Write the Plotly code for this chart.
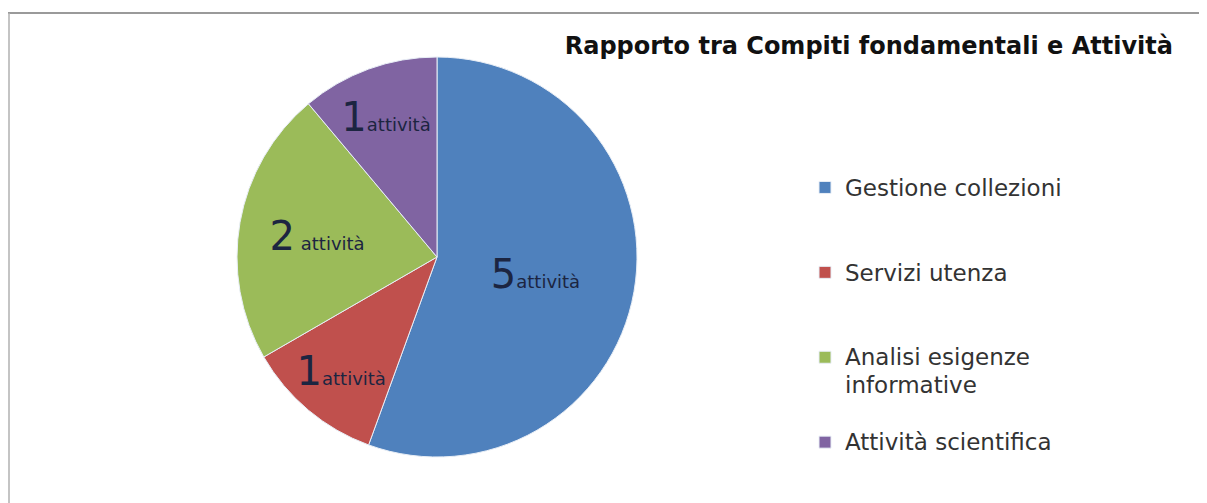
import plotly.graph_objects as go

# data
categories = ["Gestione collezioni", "Servizi utenza", "Analisi esigenze", "Attività scientifica"]
category_extra_line = ["", "", "informative", ""]
values = [5, 1, 2, 1]
slice_suffix = ["attività", "attività", " attività", "attività"]
colors = ["#4F81BD", "#C0504D", "#9BBB59", "#8064A2"]

# the page body adds an 8px margin, so the figure is shrunk to fit the window
W, H = 1199, 495
FONT = "DejaVu Sans"
NAVY = "#1C2541"

# legend labels: a blank line above, the name, then a blank or second line below,
# so every entry takes three rows and the marker sits next to the name
pad = "\u00a0"
legend_labels = []
for name, extra in zip(categories, category_extra_line):
    below = extra if extra else pad
    legend_labels.append(
        f"<span style='font-size:23px'>{pad}<br>{name}<br>{below}</span>"
    )

fig = go.Figure(
    go.Pie(
        labels=legend_labels,
        values=values,
        text=slice_suffix,
        sort=False,
        direction="clockwise",
        rotation=0,
        marker=dict(colors=colors, line=dict(color="#e8eef6", width=1)),
        texttemplate="<span style='font-size:40px'>%{value}</span>%{text}",
        textposition="inside",
        insidetextorientation="horizontal",
        textfont=dict(family=FONT, size=18, color=NAVY),
        hoverinfo="value+percent",
        domain=dict(x=[229 / W, 629 / W], y=[1 - 449 / H, 1 - 49 / H]),
    )
)

fig.update_layout(
    width=W,
    height=H,
    margin=dict(l=0, r=0, t=0, b=0),
    paper_bgcolor="white",
    plot_bgcolor="white",
    font=dict(family=FONT, color=NAVY),
    uniformtext=dict(minsize=18, mode="show"),
    title=dict(
        text="<b>Rapporto tra Compiti fondamentali e Attività</b>",
        x=1165 / W,
        xanchor="right",
        y=1 - 38 / H,
        yanchor="middle",
        font=dict(family=FONT, size=24, color="#111111"),
    ),
    legend=dict(
        x=797 / W,
        xanchor="left",
        y=1 - 132 / H,
        yanchor="top",
        font=dict(family=FONT, size=21, color="#333333"),
        bgcolor="rgba(0,0,0,0)",
    ),
    # spreadsheet frame around the chart
    shapes=[
        dict(type="line", xref="paper", yref="paper", x0=0, x1=1, y0=1 - 5 / H, y1=1 - 5 / H,
             line=dict(color="#9a9a9a", width=2)),
        dict(type="line", xref="paper", yref="paper", x0=1 / W, x1=1 / W, y0=0, y1=1 - 5 / H,
             line=dict(color="#b0b0b0", width=1.5)),
    ],
)

fig.write_html("out.html")
